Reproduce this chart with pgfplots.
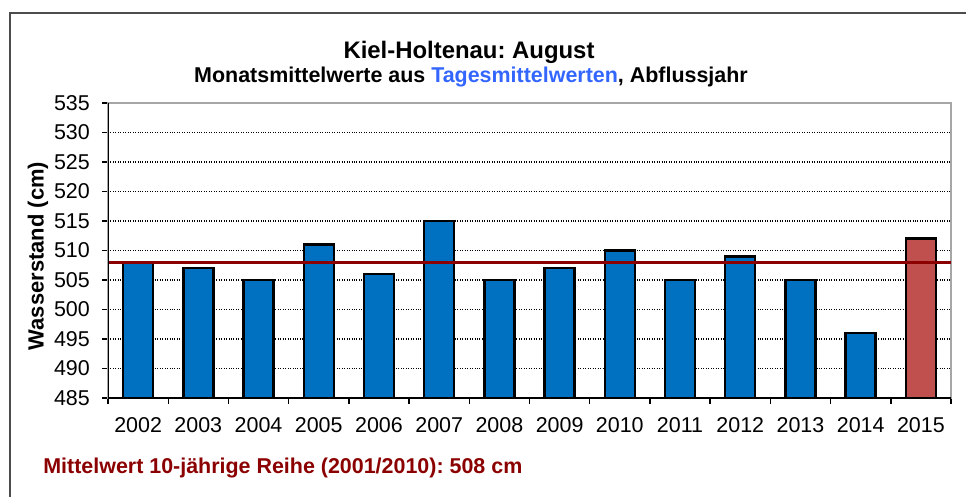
\documentclass[border=0pt]{standalone}
\usepackage{pgfplots}
\pgfplotsset{compat=1.18}
\usepackage{fontspec}
\setmainfont{Liberation Sans}
\definecolor{barblue}{HTML}{0070C0}
\definecolor{barred}{HTML}{C0504D}
\definecolor{meanred}{HTML}{8B0000}
\definecolor{tagblue}{HTML}{3366FF}

\begin{document}
\frenchspacing
\begin{tikzpicture}
\useasboundingbox (0,0) rectangle (19.32,-9.94);
% outer chart frame (cut off at the right and bottom)
\draw[gray!60!black, line width=0.8pt] (0.2,-9.94) -- (0.2,-0.26) -- (19.32,-0.26);

\node[anchor=base, inner sep=0pt, font=\bfseries\fontsize{13.6}{16}\selectfont] at (9.38,-1.18) {Kiel-Holtenau: August};
\node[anchor=base, inner sep=0pt, font=\bfseries\fontsize{12.2}{14}\selectfont] at (9.42,-1.66)
  {Monatsmittelwerte aus \textcolor{tagblue}{Tagesmittelwerten}, Abflussjahr};

\begin{axis}[
    at={(2.16cm,-7.96cm)}, anchor=south west,
    scale only axis,
    width=16.86cm, height=5.9cm,
    xmin=-0.5, xmax=13.5,
    ymin=485, ymax=535,
    ytick={485,490,...,535},
    xtick={0,...,13},
    xticklabels={2002,2003,2004,2005,2006,2007,2008,2009,2010,2011,2012,2013,2014,2015},
    minor xtick={-0.5,0.5,...,13.5},
    tick pos=left,
    tick align=outside,
    major tick length=0.12cm,
    minor tick length=0.11cm,
    major x tick style={draw=none},
    every tick/.style={black, line width=0.8pt},
    tick label style={font=\fontsize{12.2}{14}\selectfont},
    yticklabel style={xshift=-0.12cm},
    xticklabel style={yshift=-0.14cm},
    /pgf/number format/assume math mode=true,
    ymajorgrids,
    major y grid style={densely dotted, black, line width=0.6pt},
    axis line style={gray!70, line width=1.2pt},
    ybar, bar width=0.6cm,
]
\addplot[bar shift=0pt, fill=barblue, draw=black, line width=1.4pt] coordinates {
    (0,508) (1,507) (2,505) (3,511) (4,506) (5,515) (6,505)
    (7,507) (8,510) (9,505) (10,509) (11,505) (12,496)};
\addplot[bar shift=0pt, fill=barred, draw=black, line width=1.4pt] coordinates {(13,512)};
\addplot[sharp plot, meanred, line width=1.9pt] coordinates {(-0.5,508) (13.5,508)};
\draw[black, line width=1.2pt] (rel axis cs:0,1) -- (rel axis cs:0,0) -- (rel axis cs:1,0);
\end{axis}

\node[rotate=90, font=\bfseries\fontsize{12.5}{15}\selectfont] at (0.76,-5.12) {Wasserstand (cm)};
\node[anchor=base west, inner sep=0pt, text=meanred, font=\bfseries\fontsize{12.2}{14}\selectfont] at (0.86,-9.46)
  {Mittelwert 10-jährige Reihe (2001/2010): 508 cm};
\end{tikzpicture}
\end{document}
